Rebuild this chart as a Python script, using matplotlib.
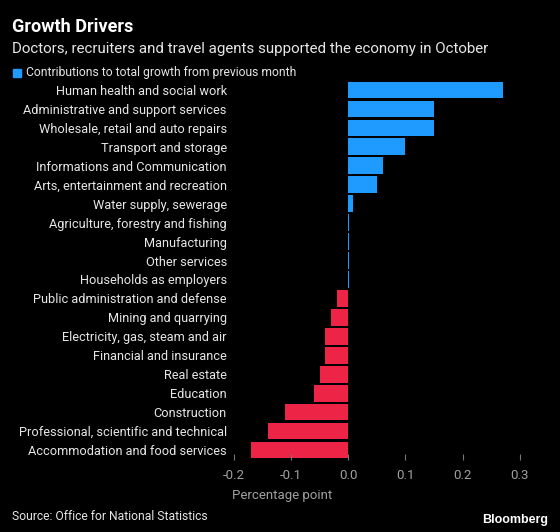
import matplotlib.pyplot as plt
from matplotlib.patches import Rectangle

# data (ONS, October)
sectors = [
    "Human health and social work",
    "Administrative and support services",
    "Wholesale, retail and auto repairs",
    "Transport and storage",
    "Informations and Communication",
    "Arts, entertainment and recreation",
    "Water supply, sewerage",
    "Agriculture, forestry and fishing",
    "Manufacturing",
    "Other services",
    "Households as employers",
    "Public administration and defense",
    "Mining and quarrying",
    "Electricity, gas, steam and air",
    "Financial and insurance",
    "Real estate",
    "Education",
    "Construction",
    "Professional, scientific and technical",
    "Accommodation and food services",
]
contributions = [0.27, 0.15, 0.15, 0.10, 0.06, 0.05, 0.008, 0.001, 0.001, 0.001,
                 0.001, -0.02, -0.03, -0.04, -0.04, -0.05, -0.06, -0.11, -0.14, -0.17]
xticks = [-0.2, -0.1, 0.0, 0.1, 0.2, 0.3]

blue = "#1f9bff"
red = "#ee2447"
bg = "#000000"
fg = "#e6e6e6"
grey = "#a0a0a0"
fam = ["Liberation Sans Narrow", "Roboto", "DejaVu Sans"]
plt.rcParams["font.family"] = fam

fig = plt.figure(figsize=(5.6, 5.32), dpi=100)
fig.set_facecolor(bg)
ax = fig.add_axes([233.7 / 560, 1 - 459.5 / 532, (531.3 - 233.7) / 560, (459.5 - 80.5) / 532])
ax.set_facecolor(bg)

colors = [blue if v >= 0 else red for v in contributions]
ax.barh(range(len(sectors)), contributions, height=0.88, color=colors)

ax.set_xlim(-0.2, 0.32)
ax.set_ylim(len(sectors) - 0.5, -0.5)
ax.set_yticks(range(len(sectors)))
ax.set_yticklabels(sectors, color=fg, fontsize=9.2)
ax.tick_params(axis="y", length=0, pad=5)
ax.set_xticks(xticks)
ax.set_xticklabels([f"{t:.1f}" for t in xticks], color=grey, fontsize=9.5)
ax.tick_params(axis="x", direction="in", length=4, color="#777777", pad=7)
for s in ax.spines.values():
    s.set_visible(False)

fig.text(12 / 560, 1 - 27 / 532, "Growth Drivers", color="white", fontsize=13,
         fontweight="bold", va="center")
fig.text(12 / 560, 1 - 49 / 532,
         "Doctors, recruiters and travel agents supported the economy in October",
         color=fg, fontsize=10.9, va="center")
fig.patches.append(Rectangle((13 / 560, 1 - 77 / 532), 8 / 560, 8 / 532,
                             transform=fig.transFigure, color=blue))
fig.text(26 / 560, 1 - 72.5 / 532, "Contributions to total growth from previous month",
         color=fg, fontsize=8.7, va="center")
fig.text(232 / 560, 1 - 495 / 532, "Percentage point", color=grey, fontsize=9.5,
         va="center")
fig.text(12 / 560, 1 - 516 / 532, "Source: Office for National Statistics", color=fg,
         fontsize=8.7, va="center")
fig.text(548 / 560, 1 - 520 / 532, "Bloomberg", color="white", fontsize=9,
         fontweight="bold", ha="right", va="center", family=["Liberation Sans", "DejaVu Sans"])

fig.savefig("out.png", dpi=100, facecolor=bg)
